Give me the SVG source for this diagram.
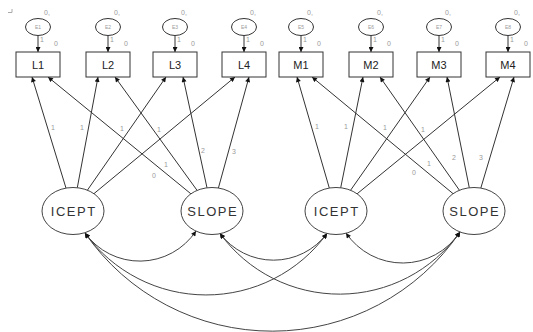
<svg xmlns="http://www.w3.org/2000/svg" width="533" height="332" viewBox="0 0 533 332">
<style>
.bg{fill:#fff}
.box{fill:#fff;stroke:#333;stroke-width:1}
.err{fill:#fff;stroke:#333;stroke-width:1}
.lat{fill:#fff;stroke:#444;stroke-width:1}
.ln{fill:none;stroke:#333;stroke-width:1}
.cv{fill:none;stroke:#444;stroke-width:1}
.t{font-family:"Liberation Sans",Arial,sans-serif;fill:#222;text-anchor:middle}
.bx{font-size:11px}
.lt{font-size:13px;letter-spacing:1.5px;fill:#333}
.sm{font-family:"Liberation Sans",Arial,sans-serif;font-size:7px;fill:#9a9a9a;text-anchor:middle}
.tiny{font-family:"Liberation Sans",Arial,sans-serif;font-size:5px;fill:#9a9a9a;text-anchor:middle}
</style>
<defs>
<marker id="ah" viewBox="0 0 10 10" refX="10" refY="5" markerWidth="6" markerHeight="5" markerUnits="userSpaceOnUse" orient="auto-start-reverse">
<path d="M0,0 L10,5 L0,10 z" fill="#111"/>
</marker>
</defs>
<rect class="bg" x="0" y="0" width="533" height="332"/>
<path d="M8 12.5 H12 V9" fill="none" stroke="#aaa" stroke-width="1"/>

<g id="connectors">
<!-- error arrows -->
<line class="ln" x1="38" y1="35.5" x2="38" y2="52" marker-end="url(#ah)"/>
<line class="ln" x1="108" y1="35.5" x2="108" y2="52" marker-end="url(#ah)"/>
<line class="ln" x1="175" y1="35.5" x2="175" y2="52" marker-end="url(#ah)"/>
<line class="ln" x1="244" y1="35.5" x2="244" y2="52" marker-end="url(#ah)"/>
<line class="ln" x1="301" y1="35.5" x2="301" y2="52" marker-end="url(#ah)"/>
<line class="ln" x1="371" y1="35.5" x2="371" y2="52" marker-end="url(#ah)"/>
<line class="ln" x1="439" y1="35.5" x2="439" y2="52" marker-end="url(#ah)"/>
<line class="ln" x1="508" y1="35.5" x2="508" y2="52" marker-end="url(#ah)"/>
<!-- loadings L -->
<line class="ln" x1="66" y1="188.1" x2="32" y2="77" marker-end="url(#ah)"/>
<line class="ln" x1="77.3" y1="187.7" x2="98" y2="77" marker-end="url(#ah)"/>
<line class="ln" x1="87.4" y1="190.2" x2="166" y2="77" marker-end="url(#ah)"/>
<line class="ln" x1="93.9" y1="193.7" x2="235" y2="77" marker-end="url(#ah)"/>
<line class="ln" x1="190.9" y1="193.8" x2="48" y2="77" marker-end="url(#ah)"/>
<line class="ln" x1="197.1" y1="190.4" x2="115" y2="77" marker-end="url(#ah)"/>
<line class="ln" x1="207" y1="187.8" x2="183" y2="77" marker-end="url(#ah)"/>
<line class="ln" x1="218.4" y1="188" x2="249" y2="77" marker-end="url(#ah)"/>
<!-- loadings M -->
<line class="ln" x1="329.3" y1="188" x2="297" y2="77" marker-end="url(#ah)"/>
<line class="ln" x1="340.7" y1="187.8" x2="363" y2="77" marker-end="url(#ah)"/>
<line class="ln" x1="350.6" y1="190.2" x2="430" y2="77" marker-end="url(#ah)"/>
<line class="ln" x1="357.1" y1="193.8" x2="500" y2="77" marker-end="url(#ah)"/>
<line class="ln" x1="453.1" y1="193.7" x2="312" y2="77" marker-end="url(#ah)"/>
<line class="ln" x1="459.4" y1="190.2" x2="380" y2="77" marker-end="url(#ah)"/>
<line class="ln" x1="469.3" y1="187.8" x2="447" y2="77" marker-end="url(#ah)"/>
<line class="ln" x1="480.8" y1="188.1" x2="514" y2="77" marker-end="url(#ah)"/>
<!-- covariances -->
<path class="cv" d="M85 233 A67.5 67.5 0 0 0 196 231" marker-start="url(#ah)" marker-end="url(#ah)"/>
<path class="cv" d="M220 233.5 A67 67 0 0 0 327 233.5" marker-start="url(#ah)" marker-end="url(#ah)"/>
<path class="cv" d="M346 233 A68.5 68.5 0 0 0 460 232" marker-start="url(#ah)" marker-end="url(#ah)"/>
<path class="cv" d="M85 233 A149.5 149.5 0 0 0 327 233.5" marker-start="url(#ah)" marker-end="url(#ah)"/>
<path class="cv" d="M220 233.5 A148 148 0 0 0 460 232" marker-start="url(#ah)" marker-end="url(#ah)"/>
<path class="cv" d="M85 233 A227.5 227.5 0 0 0 460 232" marker-start="url(#ah)" marker-end="url(#ah)"/>
<!-- loading labels -->
<text class="sm" x="53" y="129.5">1</text>
<text class="sm" x="82" y="129.5">1</text>
<text class="sm" x="122" y="130.5">1</text>
<text class="sm" x="159" y="131.5">1</text>
<text class="sm" x="203" y="152.5">2</text>
<text class="sm" x="234" y="153.5">3</text>
<text class="sm" x="166" y="166.5">1</text>
<text class="sm" x="154" y="177.5">0</text>
<text class="sm" x="317" y="128.5">1</text>
<text class="sm" x="346" y="128.5">1</text>
<text class="sm" x="385" y="129.5">1</text>
<text class="sm" x="423" y="131.5">1</text>
<text class="sm" x="454" y="159.5">2</text>
<text class="sm" x="481" y="159.5">3</text>
<text class="sm" x="429" y="165.5">1</text>
<text class="sm" x="414" y="174.5">0</text>
</g>

<g id="E1"><ellipse class="err" cx="38" cy="27" rx="12.5" ry="8.5"/><text class="tiny" x="38" y="29">E1</text><text class="sm" x="47" y="15">0,</text><text class="sm" x="42" y="42">1</text></g>
<g id="E2"><ellipse class="err" cx="108" cy="27" rx="12.5" ry="8.5"/><text class="tiny" x="108" y="29">E2</text><text class="sm" x="117" y="15">0,</text><text class="sm" x="112" y="42">1</text></g>
<g id="E3"><ellipse class="err" cx="175" cy="27" rx="12.5" ry="8.5"/><text class="tiny" x="175" y="29">E3</text><text class="sm" x="184" y="15">0,</text><text class="sm" x="179" y="42">1</text></g>
<g id="E4"><ellipse class="err" cx="244" cy="27" rx="12.5" ry="8.5"/><text class="tiny" x="244" y="29">E4</text><text class="sm" x="253" y="15">0,</text><text class="sm" x="248" y="42">1</text></g>
<g id="E5"><ellipse class="err" cx="301" cy="27" rx="12.5" ry="8.5"/><text class="tiny" x="301" y="29">E5</text><text class="sm" x="310" y="15">0,</text><text class="sm" x="305" y="42">1</text></g>
<g id="E6"><ellipse class="err" cx="371" cy="27" rx="12.5" ry="8.5"/><text class="tiny" x="371" y="29">E6</text><text class="sm" x="380" y="15">0,</text><text class="sm" x="375" y="42">1</text></g>
<g id="E7"><ellipse class="err" cx="439" cy="27" rx="12.5" ry="8.5"/><text class="tiny" x="439" y="29">E7</text><text class="sm" x="448" y="15">0,</text><text class="sm" x="443" y="42">1</text></g>
<g id="E8"><ellipse class="err" cx="508" cy="27" rx="12.5" ry="8.5"/><text class="tiny" x="508" y="29">E8</text><text class="sm" x="517" y="15">0,</text><text class="sm" x="512" y="42">1</text></g>

<g id="L1"><rect class="box" x="16" y="52" width="44" height="25"/><text class="t bx" x="38" y="68.5">L1</text><text class="sm" x="56" y="45.5">0</text></g>
<g id="L2"><rect class="box" x="86" y="52" width="44" height="25"/><text class="t bx" x="108" y="68.5">L2</text><text class="sm" x="126" y="45.5">0</text></g>
<g id="L3"><rect class="box" x="153" y="52" width="44" height="25"/><text class="t bx" x="175" y="68.5">L3</text><text class="sm" x="193" y="45.5">0</text></g>
<g id="L4"><rect class="box" x="222" y="52" width="44" height="25"/><text class="t bx" x="244" y="68.5">L4</text><text class="sm" x="262" y="45.5">0</text></g>
<g id="M1"><rect class="box" x="279" y="52" width="44" height="25"/><text class="t bx" x="301" y="68.5">M1</text><text class="sm" x="319" y="45.5">0</text></g>
<g id="M2"><rect class="box" x="349" y="52" width="44" height="25"/><text class="t bx" x="371" y="68.5">M2</text><text class="sm" x="389" y="45.5">0</text></g>
<g id="M3"><rect class="box" x="417" y="52" width="44" height="25"/><text class="t bx" x="439" y="68.5">M3</text><text class="sm" x="457" y="45.5">0</text></g>
<g id="M4"><rect class="box" x="486" y="52" width="44" height="25"/><text class="t bx" x="508" y="68.5">M4</text><text class="sm" x="526" y="45.5">0</text></g>

<g id="ICEPT1"><ellipse class="lat" cx="73" cy="211" rx="31" ry="23.5"/><text class="t lt" x="73.75" y="216">ICEPT</text></g>
<g id="SLOPE1"><ellipse class="lat" cx="212" cy="211" rx="31" ry="23.5"/><text class="t lt" x="212.75" y="216">SLOPE</text></g>
<g id="ICEPT2"><ellipse class="lat" cx="336" cy="211" rx="31" ry="23.5"/><text class="t lt" x="336.75" y="216">ICEPT</text></g>
<g id="SLOPE2"><ellipse class="lat" cx="474" cy="211" rx="31" ry="23.5"/><text class="t lt" x="474.75" y="216">SLOPE</text></g>
</svg>
